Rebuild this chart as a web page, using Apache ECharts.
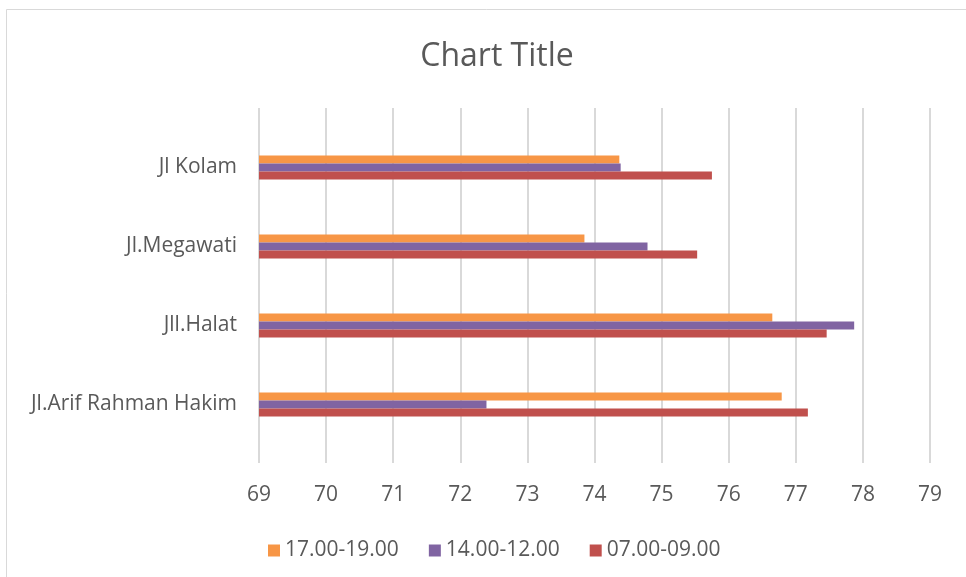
<!DOCTYPE html>
<html>
<head>
<meta charset="utf-8">
<script src="https://cdn.jsdelivr.net/npm/echarts@6/dist/echarts.min.js"></script>
<style>
  html, body { margin: 0; padding: 0; background: #fff; }
  #chart { width: 966px; height: 577px; }
</style>
</head>
<body>
<div id="chart"></div>
<script>
// Road segments, listed bottom to top
var categories = ['Jl.Arif Rahman Hakim', 'Jll.Halat', 'Jl.Megawati', 'Jl Kolam'];

// Values per time window
var morning = [77.18, 77.46, 75.53, 75.75];   // 07.00-09.00
var midday = [72.39, 77.87, 74.79, 74.39];    // 14.00-12.00
var evening = [76.79, 76.65, 73.85, 74.37];   // 17.00-19.00

var legendOrder = ['17.00-19.00', '14.00-12.00', '07.00-09.00'];

var xMin = 69, xMax = 79, xStep = 1;

var FONT = 'Open Sans';
var TEXT = '#595959';

var chart = echarts.init(document.getElementById('chart'), null, { renderer: 'canvas' });

chart.setOption({
  animation: false,
  backgroundColor: '#ffffff',
  textStyle: { fontFamily: FONT },
  graphic: [{
    type: 'rect',
    shape: { x: 6.5, y: 9.5, width: 1000, height: 620 },
    style: { fill: 'none', stroke: '#d9d9d9', lineWidth: 1 },
    silent: true
  }],
  title: {
    text: 'Chart Title',
    left: 492,
    textAlign: 'center',
    top: 36,
    textStyle: { fontFamily: FONT, fontSize: 32, fontWeight: 'normal', color: TEXT }
  },
  legend: {
    data: legendOrder,
    left: 263,
    top: 535,
    icon: 'rect',
    itemWidth: 12,
    itemHeight: 12,
    itemGap: 30,
    textStyle: { fontFamily: FONT, fontSize: 21, color: TEXT }
  },
  grid: [
    // value grid: gridlines and tick labels
    { left: 259, right: 36, top: 108, bottom: 114 },
    // category grid: bars and road names
    { left: 259, right: 36, top: 128, bottom: 133 }
  ],
  xAxis: [{
    gridIndex: 0,
    type: 'value',
    min: xMin, max: xMax, interval: xStep,
    axisLine: { show: false },
    axisTick: { show: false },
    axisLabel: { margin: 22, fontFamily: FONT, fontSize: 21, color: TEXT },
    splitLine: { show: true, lineStyle: { color: '#d9d9d9', width: 2 } }
  }, {
    gridIndex: 1,
    type: 'value',
    min: xMin, max: xMax, interval: xStep,
    show: false,
    splitLine: { show: false }
  }],
  yAxis: [{
    gridIndex: 0,
    type: 'category',
    data: categories,
    show: false
  }, {
    gridIndex: 1,
    type: 'category',
    data: categories,
    axisLine: { show: false },
    axisTick: { show: false },
    axisLabel: { margin: 22, padding: [4, 0, 0, 0], fontFamily: FONT, fontSize: 21, color: TEXT }
  }],
  // first series sits at the top of each cluster
  series: [
    { name: '17.00-19.00', type: 'bar', xAxisIndex: 1, yAxisIndex: 1, data: evening,
      barWidth: 8, barGap: '0%', itemStyle: { color: '#F79646' } },
    { name: '14.00-12.00', type: 'bar', xAxisIndex: 1, yAxisIndex: 1, data: midday,
      barWidth: 8, barGap: '0%', itemStyle: { color: '#8064A2' } },
    { name: '07.00-09.00', type: 'bar', xAxisIndex: 1, yAxisIndex: 1, data: morning,
      barWidth: 8, barGap: '0%', itemStyle: { color: '#C0504D' } }
  ]
});
</script>
</body>
</html>
